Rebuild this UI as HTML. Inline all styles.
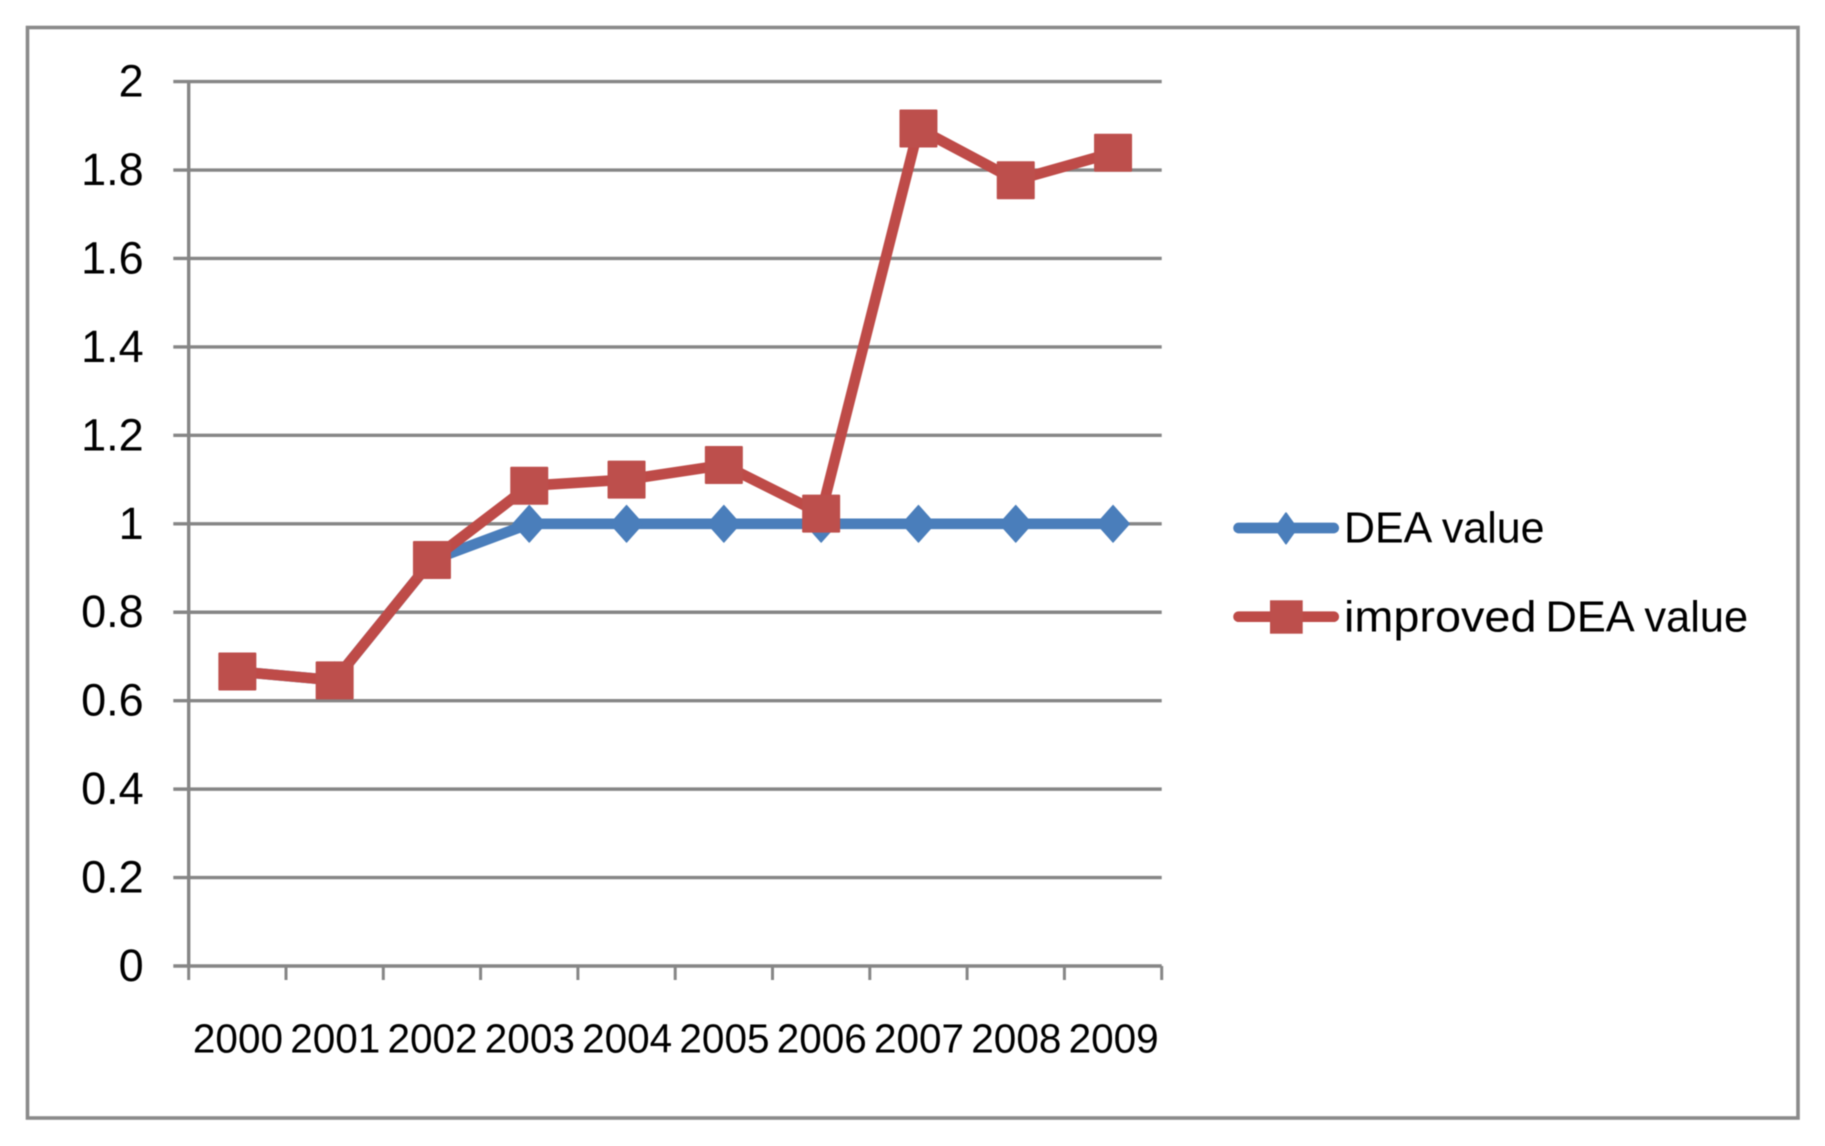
<!DOCTYPE html>
<html lang="en">
<head>
<meta charset="utf-8">
<title>DEA value vs improved DEA value</title>
<style>
  html, body { margin: 0; padding: 0; background: #ffffff; }
  svg { display: block; filter: blur(0.45px); }
  text { font-family: "Liberation Sans", sans-serif; fill: #000000; }
</style>
</head>
<body>
<svg id="chart" xmlns="http://www.w3.org/2000/svg" width="1825" height="1146" viewBox="0 0 1825 1146">
  <rect x="0" y="0" width="1825" height="1146" fill="#ffffff"/>
  <rect x="27.5" y="27.5" width="1770.5" height="1090.5" fill="none" stroke="#8a8a8a" stroke-width="3.6"/>
  <g id="grid-layer"></g>
  <g id="axis-layer"></g>
  <g id="series-layer"></g>
  <g>
    <g>
      <line x1="1238.6" y1="528" x2="1333.7" y2="528" stroke="#4a7ebb" stroke-width="10.7" stroke-linecap="round"/>
      <polygon points="1286,513 1297,528.3 1286,543.8 1275,528.3" fill="#4a7ebb" stroke="#4a7ebb" stroke-width="1.5" stroke-linejoin="round"/>
      <text x="1344" y="542.3" font-size="44" textLength="200.5" lengthAdjust="spacingAndGlyphs">DEA value</text>
    </g>
    <g>
      <line x1="1238.6" y1="616.7" x2="1333.7" y2="616.7" stroke="#be4b48" stroke-width="10.7" stroke-linecap="round"/>
      <rect x="1270" y="600.3" width="32.7" height="33.4" fill="#bd4f4c"/>
      <text y="631.7" font-size="44"><tspan x="1344" textLength="192.5" lengthAdjust="spacingAndGlyphs">improved</tspan> <tspan x="1545.5" textLength="202.7" lengthAdjust="spacingAndGlyphs">DEA value</tspan></text>
    </g>
  </g>
</svg>
<script>
const categories = ['2000', '2001', '2002', '2003', '2004', '2005', '2006', '2007', '2008', '2009'];
const yTickLabels = ['0', '0.2', '0.4', '0.6', '0.8', '1', '1.2', '1.4', '1.6', '1.8', '2'];
const deaValues = [0.666, 0.646, 0.918, 1, 1, 1, 1, 1, 1, 1];
const improvedDeaValues = [0.666, 0.646, 0.918, 1.086, 1.100, 1.133, 1.023, 1.894, 1.777, 1.839];

const NS = 'http://www.w3.org/2000/svg';
const plot = { left: 188.7, right: 1161.7, bottom: 966, top: 81.6, yMax: 2 };
const axisColor = '#868686';

function xBand(i) {
  return plot.left + (plot.right - plot.left) * i / categories.length;
}
function xPos(i) {
  return xBand(i + 0.5);
}
function yPos(v) {
  return plot.bottom - (plot.bottom - plot.top) * v / plot.yMax;
}
function make(tag, attrs, parent) {
  const el = document.createElementNS(NS, tag);
  for (const k in attrs) el.setAttribute(k, attrs[k]);
  parent.appendChild(el);
  return el;
}

const gridLayer = document.getElementById('grid-layer');
const axisLayer = document.getElementById('axis-layer');
const seriesLayer = document.getElementById('series-layer');

/* Horizontal gridlines and y tick labels */
yTickLabels.forEach(function (label) {
  const y = yPos(Number(label));
  const line = make('line', { x1: 173.3, y1: y, x2: plot.right, y2: y, stroke: axisColor, 'stroke-width': 3.4 }, gridLayer);
  
  
  const text = make('text', { x: 143.7, y: y + 15, 'font-size': 45, 'text-anchor': 'end' }, axisLayer);
  text.textContent = label;
  
  
});

/* Y axis line */
const yAxis = make('line', { x1: plot.left, y1: plot.top, x2: plot.left, y2: plot.bottom, stroke: axisColor, 'stroke-width': 3.4 }, axisLayer);



/* X ticks */
for (let i = 0; i <= categories.length; i++) {
  const x = xBand(i);
  const tick = make('line', { x1: x, y1: plot.bottom, x2: x, y2: 980, stroke: axisColor, 'stroke-width': 3 }, axisLayer);
  
  
}

/* X labels */
categories.forEach(function (label, i) {
  const text = make('text', { x: xPos(i) + 0.6, y: 1052.5, 'font-size': 40.5, 'text-anchor': 'middle' }, axisLayer);
  text.textContent = label;
  
  
});

/* Series lines and markers */
function drawLine(values, color, name) {
  const pts = values.map(function (v, i) { return xPos(i) + ',' + yPos(v); }).join(' ');
  const line = make('polyline', { points: pts, fill: 'none', stroke: color, 'stroke-width': 10.7, 'stroke-linejoin': 'round', 'stroke-linecap': 'round' }, seriesLayer);
  
  
}

drawLine(deaValues, '#4a7ebb', 'line-dea-value');
deaValues.forEach(function (v, i) {
  const x = xPos(i), y = yPos(v);
  const pts = [[x, y - 18.5], [x + 16.5, y], [x, y + 18.5], [x - 16.5, y]].map(function (p) { return p.join(','); }).join(' ');
  const marker = make('polygon', { points: pts, fill: '#4a7ebb', stroke: '#4a7ebb', 'stroke-width': 1, 'stroke-linejoin': 'round' }, seriesLayer);
  
  
});

drawLine(improvedDeaValues, '#be4b48', 'line-improved-dea-value');
improvedDeaValues.forEach(function (v, i) {
  const x = xPos(i), y = yPos(v);
  const marker = make('rect', { x: x - 19, y: y - 19, width: 38, height: 38, rx: 1, fill: '#bd4f4c' }, seriesLayer);
  
  
});
</script>
</body>
</html>
